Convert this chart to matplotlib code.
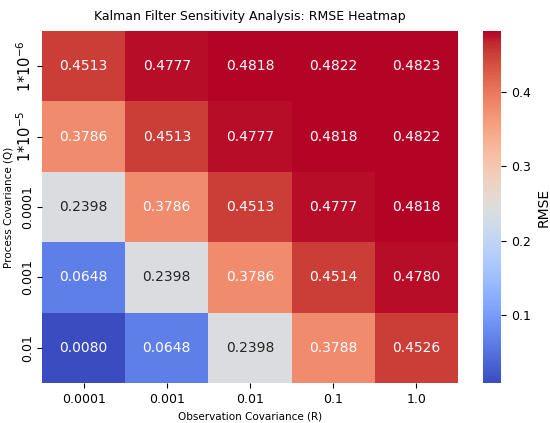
import matplotlib
matplotlib.use("Agg")
import matplotlib.pyplot as plt
import numpy as np
import seaborn as sns

# Process covariance (rows, top to bottom) and observation covariance (columns)
q_labels = [r"$1{*}10^{-6}$", r"$1{*}10^{-5}$", "0.0001", "0.001", "0.01"]
r_labels = ["0.0001", "0.001", "0.01", "0.1", "1.0"]

row_q1e6 = [0.4513, 0.4777, 0.4818, 0.4822, 0.4823]
row_q1e5 = [0.3786, 0.4513, 0.4777, 0.4818, 0.4822]
row_q1e4 = [0.2398, 0.3786, 0.4513, 0.4777, 0.4818]
row_q1e3 = [0.0648, 0.2398, 0.3786, 0.4514, 0.4780]
row_q1e2 = [0.0080, 0.0648, 0.2398, 0.3788, 0.4526]

rmse = np.array([row_q1e6, row_q1e5, row_q1e4, row_q1e3, row_q1e2])

fig = plt.figure(figsize=(5.5, 4.23), dpi=100)
ax = fig.add_axes([0.0764, 0.0946, 0.756, 0.832])
cax = fig.add_axes([0.878, 0.0946, 0.033, 0.832])

sns.heatmap(rmse, annot=True, fmt=".4f", cmap="coolwarm",
            xticklabels=r_labels, yticklabels=q_labels,
            ax=ax, cbar_ax=cax, annot_kws={"size": 10},
            cbar_kws={"label": "RMSE"})

ax.set_title("Kalman Filter Sensitivity Analysis: RMSE Heatmap", fontsize=9, pad=8)
ax.set_xlabel("Observation Covariance (R)", fontsize=7.5)
ax.set_ylabel("Process Covariance (Q)", fontsize=7.5)
ax.yaxis.set_label_coords(-0.068, 0.5)
ax.tick_params(axis="x", labelsize=9)
ax.tick_params(axis="y", labelsize=9, pad=2)
for lbl in ax.get_yticklabels():
    lbl.set_rotation(90)
    lbl.set_va("center")
    if "$" in lbl.get_text():
        lbl.set_fontsize(10.5)

cax.tick_params(labelsize=9)
cax.yaxis.label.set_size(10)

plt.savefig("out.png", dpi=100)
